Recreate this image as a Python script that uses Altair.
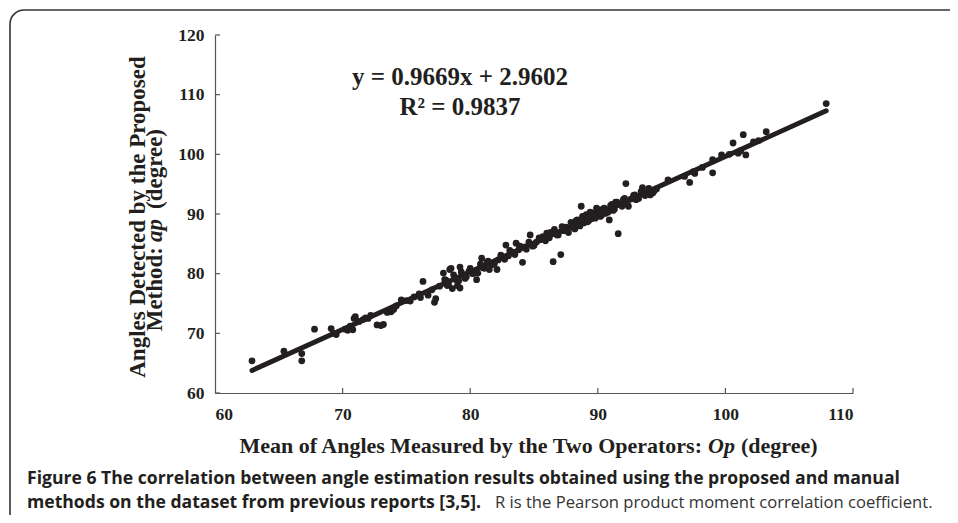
import altair as alt
import math
import pandas as pd

# ---- data ----
op_x = [62.9, 65.4, 66.8, 66.8, 67.8, 69.1, 69.3, 69.5, 70.2, 70.4, 70.6, 70.8, 70.9, 71.0,
        71.3, 71.6, 71.8, 72.0, 72.2, 72.7, 73.0, 73.2, 73.5, 73.8, 74.0, 74.2, 74.6, 75.0,
        75.3, 75.6, 76.0, 76.1, 76.3, 76.7, 77.0, 77.2, 77.3,
        77.6, 77.9, 78.0, 78.2, 78.4, 78.5, 78.6, 78.8, 78.9, 79.0, 79.2, 79.2, 79.4, 79.7,
        79.9, 80.2, 80.5, 80.6, 80.9, 81.0, 81.3, 81.5, 81.7, 82.1, 82.2, 82.5, 82.8, 83.0,
        83.3, 83.6, 83.8, 84.1, 84.3, 84.7, 84.9, 85.2, 85.5, 85.7, 86.0, 86.2, 86.5, 86.6,
        86.8, 87.1, 87.3,
        87.5, 87.7, 88.0, 88.2, 88.4, 88.5, 88.7, 88.8, 88.9, 89.1, 89.2, 89.4, 89.5, 89.7,
        89.9, 90.0, 90.2, 90.4, 90.6, 90.9, 91.0, 91.2, 91.4, 91.6, 91.8, 92.0, 92.2, 92.4,
        92.6, 92.9, 93.2, 93.5, 93.8, 94.1, 94.3, 94.6, 95.5, 96.8, 97.2, 97.5, 97.6, 98.2,
        99.0, 99.0, 99.7, 100.3, 100.6, 101.0, 101.2, 101.4, 101.6, 102.2, 102.6, 103.2, 107.9,
        78.1, 78.3, 78.7, 79.1, 79.3, 79.6, 80.0, 80.3, 80.8, 81.1, 81.4, 81.9, 82.4, 82.7,
        83.1, 83.5, 83.9, 84.4, 84.6, 85.0, 85.4, 85.9, 86.3, 86.9, 87.2, 87.6, 87.9, 88.1,
        88.3, 88.6, 89.0, 89.3, 89.6, 89.8, 90.1, 90.3, 90.5, 90.8, 91.1, 91.3, 91.5, 91.9,
        92.1, 92.3, 92.8, 93.0, 93.4, 93.7, 94.0, 94.4]
ap_y = [65.4, 67.0, 66.6, 65.4, 70.7, 70.8, 70.0, 69.8, 70.7, 70.5, 71.2, 70.6, 72.5, 72.8,
        72.0, 72.3, 72.6, 72.5, 73.0, 71.4, 71.3, 71.5, 73.5, 73.6, 74.0, 74.6, 75.6, 75.5,
        75.4, 76.1, 76.6, 76.0, 78.7, 76.4, 77.3, 75.2, 75.8,
        77.9, 80.1, 79.0, 78.0, 80.7, 80.9, 77.5, 79.3, 79.0, 78.0, 81.1, 77.6, 79.8, 79.5,
        80.4, 80.0, 79.0, 80.1, 82.6, 81.0, 81.8, 80.7, 81.5, 80.7, 82.3, 82.8, 84.8, 83.0,
        83.6, 85.1, 84.0, 81.9, 84.5, 86.5, 84.6, 85.3, 85.7, 86.2, 86.8, 86.0, 82.0, 87.4,
        86.5, 83.2, 87.2,
        87.8, 86.9, 88.3, 87.5, 89.0, 88.2, 91.3, 89.6, 88.5, 89.9, 88.7, 90.3, 89.2, 89.8,
        91.0, 90.4, 89.6, 90.8, 90.1, 89.0, 91.4, 90.6, 92.0, 86.7, 91.5, 92.4, 95.1, 91.3,
        92.5, 93.2, 92.6, 94.4, 93.6, 93.2, 93.5, 94.2, 95.7, 96.3, 95.3, 97.1, 96.8, 97.8,
        99.1, 96.9, 99.9, 100.0, 101.9, 100.2, 100.6, 103.3, 99.9, 102.1, 102.3, 103.8, 108.5,
        78.9, 78.2, 79.8, 78.8, 80.3, 79.2, 80.9, 80.2, 81.6, 80.9, 82.1, 81.7, 83.1, 82.4,
        83.9, 83.2, 84.6, 84.1, 85.3, 84.7, 86.0, 85.5, 86.9, 86.5, 87.9, 87.2, 88.6, 87.7,
        88.9, 88.0, 89.6, 88.9, 90.2, 89.3, 90.7, 89.8, 91.0, 90.3, 91.6, 90.8, 92.0, 91.3,
        92.6, 91.8, 93.1, 92.4, 93.8, 93.1, 94.3, 93.8]

slope = 0.9669
intercept = 2.9602
line_x = [62.9, 107.9]

x_ticks = [60, 70, 80, 90, 100, 110]
y_ticks = [60, 70, 80, 90, 100, 110, 120]

eq_lines = ["y = 0.9669x + 2.9602", "R\u00b2 = 0.9837"]
x_title = ["Mean of Angles Measured by the Two Operators:", "Op", "(degree)"]
y_title1 = "Angles Detected by the Proposed"
y_title2 = ["Method:", "ap", "(degree)"]
caption1 = "Figure 6 The correlation between angle estimation results obtained using the proposed and manual"
caption2_bold = "methods on the dataset from previous reports [3,5]."
caption2_rest = "R is the Pearson product moment correlation coefficient."

INK = "#231f20"
FRAME = "#333333"
SERIF = "Liberation Serif"
SANS = "Open Sans"

W, H = 638, 358

pts = pd.DataFrame({"op": op_x, "ap": ap_y})
fit = pd.DataFrame({"op": line_x})

xs = alt.Scale(domain=[60, 110], nice=False, zero=False)
ys = alt.Scale(domain=[60, 120], nice=False, zero=False)

x_axis = alt.Axis(values=x_ticks, format="d", title=None, grid=False, ticks=False, tickSize=0,
                  labelFont=SERIF, labelFontWeight="bold", labelFontSize=17.5, labelColor=INK,
                  labelPadding=12, domainColor="#555555", domainWidth=1.2)
y_axis = alt.Axis(values=y_ticks, format="d", title=None, grid=False, ticks=False, tickSize=0,
                  labelFont=SERIF, labelFontWeight="bold", labelFontSize=17.5, labelColor=INK,
                  labelPadding=11, domainColor="#555555", domainWidth=1.2)

points = alt.Chart(pts).mark_circle(size=46, color=INK, opacity=1).encode(
    x=alt.X("op:Q", scale=xs, axis=x_axis),
    y=alt.Y("ap:Q", scale=ys, axis=y_axis),
)

trend = alt.Chart(fit).transform_calculate(
    ap=f"{slope} * datum.op + {intercept}"
).mark_line(color=INK, strokeWidth=5, strokeCap="round").encode(
    x=alt.X("op:Q", scale=xs), y=alt.Y("ap:Q", scale=ys)
)

xt = alt.Chart(pd.DataFrame({"v": x_ticks[1:]})).mark_rule(color="#555555", strokeWidth=1.2).encode(
    x=alt.X("v:Q", scale=xs), y=alt.value(H), y2=alt.value(H - 5)
)
yt = alt.Chart(pd.DataFrame({"v": y_ticks})).mark_rule(color="#555555", strokeWidth=1.2).encode(
    y=alt.Y("v:Q", scale=ys), x=alt.value(0), x2=alt.value(5)
)


def label(txt, x, y, font=SERIF, size=22, weight="bold", style="normal", align="left",
          baseline="alphabetic", angle=0, color=INK):
    return alt.Chart(pd.DataFrame({"t": [txt]})).mark_text(
        font=font, fontSize=size, fontWeight=weight, fontStyle=style, align=align,
        baseline=baseline, angle=angle, color=color
    ).encode(text="t:N", x=alt.value(x), y=alt.value(y))


# decorative panel border (open on the right and bottom, rounded top-left corner)
one = pd.DataFrame({"a": [0]})
R = 14
FX, FY = -205, -25
frame_top = alt.Chart(one).mark_rule(color=FRAME, strokeWidth=1.6).encode(
    x=alt.value(FX + R), x2=alt.value(760), y=alt.value(FY)
)
frame_left = alt.Chart(one).mark_rule(color=FRAME, strokeWidth=1.6).encode(
    x=alt.value(FX), y=alt.value(FY + R), y2=alt.value(520)
)
frame_corner = alt.Chart(one).mark_arc(
    radius=R, innerRadius=R, theta=1.5 * math.pi, theta2=2 * math.pi,
    fill=None, stroke=FRAME, strokeWidth=1.6
).encode(x=alt.value(FX + R), y=alt.value(FY + R))

texts = [
    label(eq_lines[0], 245, 50, size=25, align="center"),
    label(eq_lines[1], 245, 80, size=25, align="center"),
    label(x_title[0], 487, 418, size=22, align="right"),
    label(x_title[1], 493, 418, size=22, style="italic"),
    label(x_title[2], 526, 418, size=22),
    label(y_title1, -70, 182, size=23, align="center", angle=270),
    label(y_title2[0], -53, 212, size=23, align="right", angle=270),
    label(y_title2[1], -53, 207, size=23, style="italic", angle=270),
    label(y_title2[2], -53, 174, size=23, angle=270),
    label(caption1, -188, 444, font=SANS, size=17.6, baseline="middle"),
    label(caption2_bold, -188, 468, font=SANS, size=17.6, baseline="middle"),
    label(caption2_rest, 280, 468, font=SANS, size=16.6, weight="normal", baseline="middle",
          color="#333333"),
]

chart = alt.layer(frame_top, frame_left, frame_corner, trend, points, xt, yt, *texts).properties(
    width=W, height=H,
    autosize=alt.AutoSizeParams(type="none"),
    padding={"left": 207, "top": 27, "right": 97, "bottom": 122},
).configure_view(stroke=None)

chart.save("out.html", embed_options={"renderer": "svg", "actions": False})
